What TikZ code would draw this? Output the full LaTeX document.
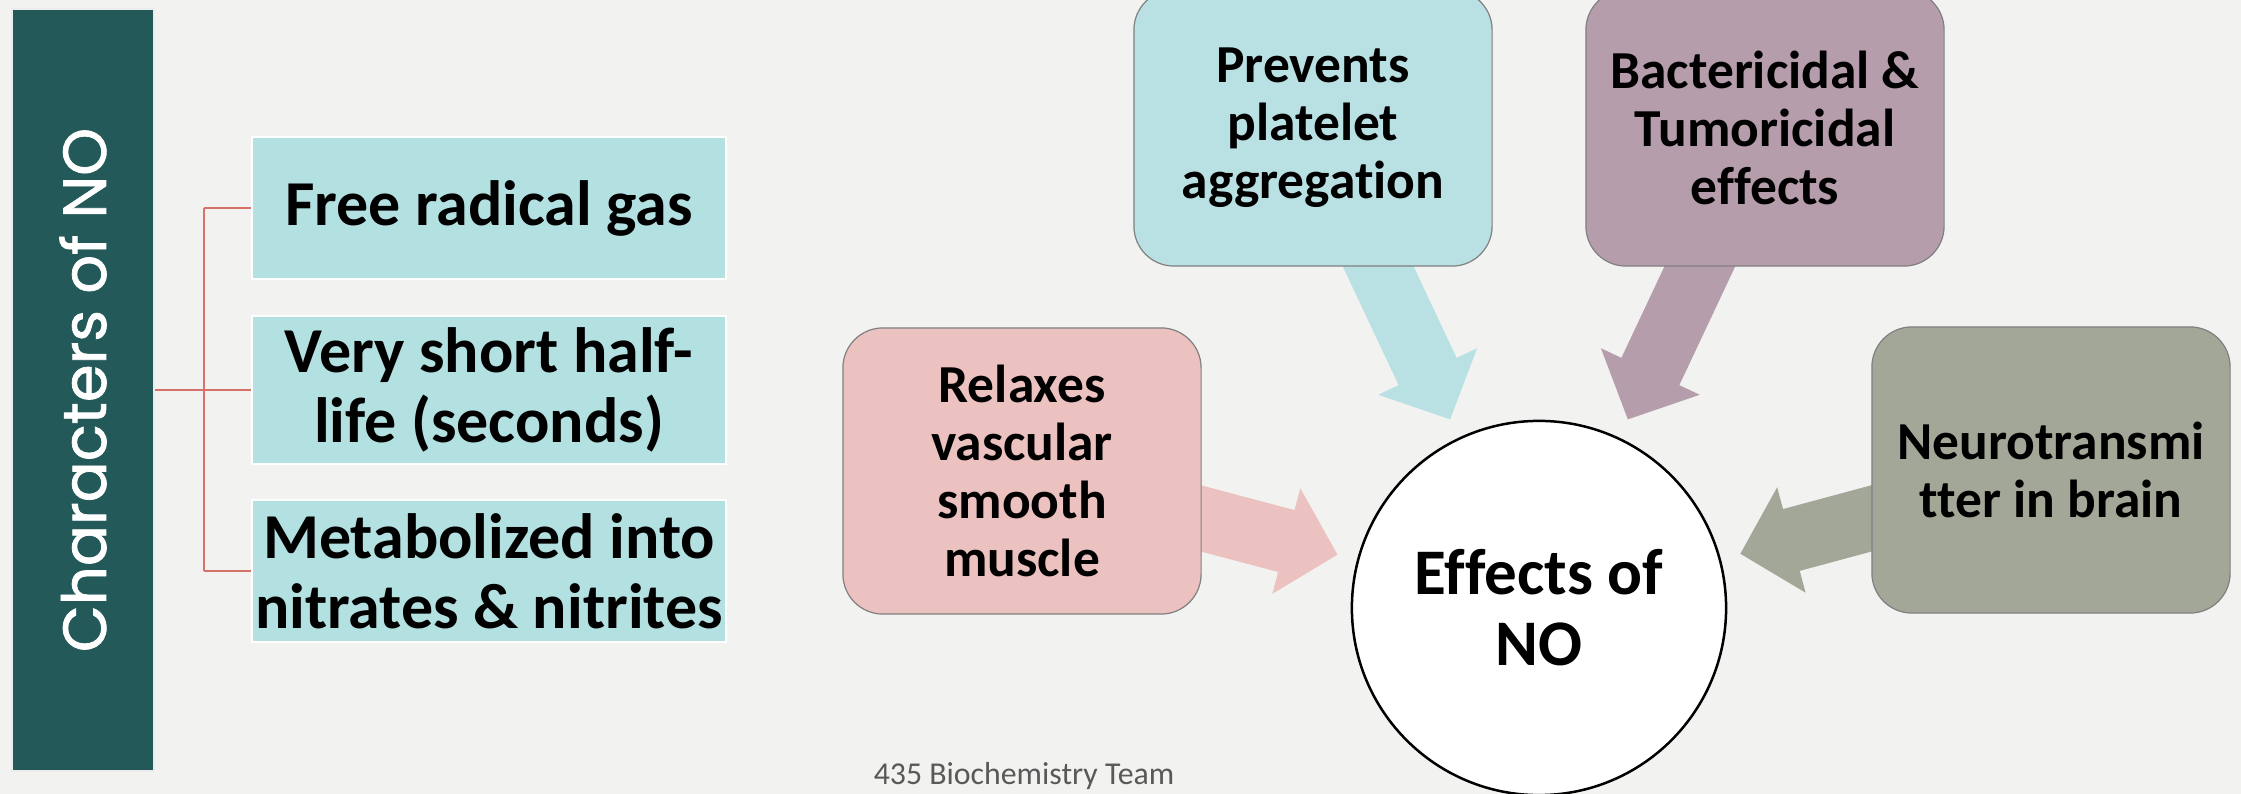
\documentclass[tikz,border=0pt]{standalone}
\usepackage{fontspec}
\setmainfont{Carlito}[Ligatures=NoCommon]
\newfontfamily\titlefont[FakeBold=1.2]{Poppins}
\usetikzlibrary{arrows.meta}
\pgfdeclarelayer{bg}
\pgfdeclarelayer{links}
\pgfsetlayers{bg,links,main}
\definecolor{cPage}{HTML}{F2F2F0}
\definecolor{cBar}{HTML}{245959}
\definecolor{cChar}{HTML}{B3E0E0}
\definecolor{cLine}{HTML}{D6726A}
\definecolor{cPlatelet}{HTML}{B9E1E3}
\definecolor{cBact}{HTML}{B59DAB}
\definecolor{cNeuro}{HTML}{A3A797}
\definecolor{cRelax}{HTML}{EBC2C0}
\definecolor{cFoot}{HTML}{595959}
\tikzset{
  charbox/.style={draw=white, line width=0.02cm, fill=cChar, minimum width=4.74cm, minimum height=1.41cm, inner xsep=1pt, align=center, font=\fontsize{18.2}{19.9}\selectfont\bfseries},
  effbox/.style={draw=gray, line width=0.012cm, rounded corners=0.4cm, minimum width=3.58cm, align=center, font=\fontsize{15.2}{16.5}\selectfont\bfseries},
  effarrow/.style={line width=0.64cm, -{Triangle[length=0.53cm,width=1.06cm]}, shorten >=0.2cm},
  bracketline/.style={cLine, line width=0.022cm},
}
\begin{document}
\begin{tikzpicture}[x=0.01cm,y=-0.01cm]
\useasboundingbox (0,0) rectangle (2241,794);
\begin{pgfonlayer}{bg}
\fill[cPage] (0,0) rectangle (2241,794);
\end{pgfonlayer}

\node[rotate=90, fill=cBar, draw=white!85!gray, line width=0.015cm, minimum width=7.62cm, minimum height=1.42cm, text=white, font=\titlefont\fontsize{17.3}{21}\selectfont] (bar) at (83,390) {Characters of NO};
\node[charbox] (free) at (489,208) {Free radical gas};
\node[charbox] (halflife) at (489,390) {Very short half-\\life (seconds)};
\node[charbox] (metab) at (489,571) {Metabolized into\\nitrates \& nitrites};

\coordinate (fork) at (204,390);
\draw[bracketline] (bar.south) -- (fork);
\draw[bracketline] (fork |- free.west) -- (fork |- metab.west);
\foreach \b in {free,halflife,metab}
  \draw[bracketline] (fork |- \b.west) -- (\b.west);

\node[effbox, fill=cPlatelet, minimum height=2.76cm] (platelet) at (1313,128) {Prevents\\platelet\\aggregation};
\node[effbox, fill=cBact, minimum height=2.76cm] (bacteria) at (1765,128) {Bactericidal \&\\Tumoricidal\\effects};
\node[effbox, fill=cRelax, minimum height=2.86cm] (relax) at (1022,471) {Relaxes\\vascular\\smooth\\muscle};
\node[effbox, fill=cNeuro, minimum height=2.86cm] (neuro) at (2051,470) {Neurotransmi\\tter in brain};
\node[circle, draw=black, line width=0.025cm, fill=white, minimum size=3.74cm, align=center, font=\fontsize{18.5}{20.2}\selectfont\bfseries] (effects) at (1539,608) {Effects of\\NO};

\begin{pgfonlayer}{links}
\draw[effarrow, cRelax] (relax.center) -- (effects);
\draw[effarrow, cPlatelet] (platelet.center) -- (effects);
\draw[effarrow, cBact] (bacteria.center) -- (effects);
\draw[effarrow, cNeuro] (neuro.center) -- (effects);
\end{pgfonlayer}

\node[text=cFoot, font=\fontsize{9.05}{11}\selectfont] (team) at (1024,776) {435 Biochemistry Team};
\end{tikzpicture}
\end{document}
